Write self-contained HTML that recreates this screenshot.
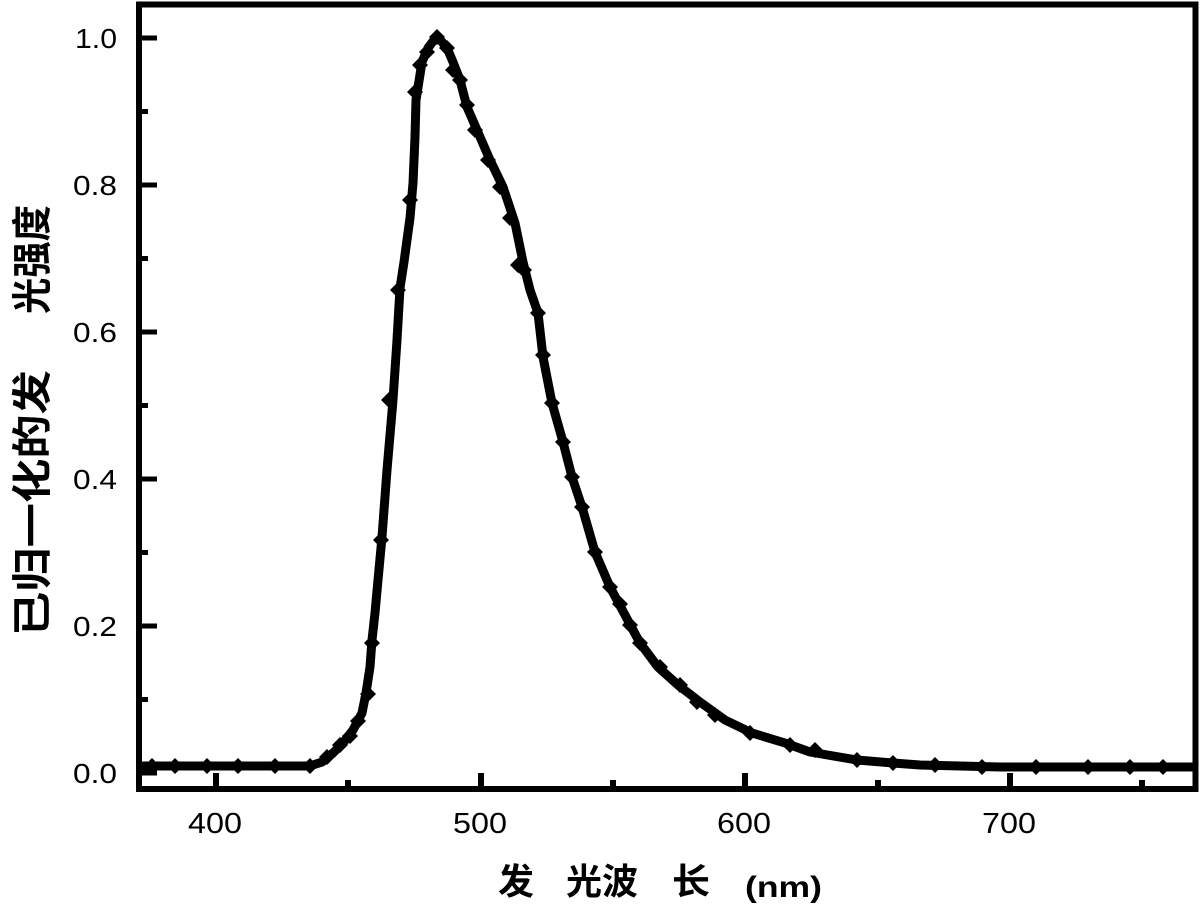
<!DOCTYPE html>
<html><head><meta charset="utf-8"><style>
html,body{margin:0;padding:0;background:#fff;}
svg{display:block;}
</style></head><body>
<svg width="1203" height="914" viewBox="0 0 1203 914" xmlns="http://www.w3.org/2000/svg" xmlns:xlink="http://www.w3.org/1999/xlink">
<defs><path id="d" d="M0,-8 L8,0 L0,8 L-8,0 Z" fill="#000"/></defs>
<rect width="1203" height="914" fill="#fff"/>
<rect x="139" y="4.5" width="1056.5" height="784.5" fill="none" stroke="#000" stroke-width="6"/>
<g stroke="#000" stroke-width="5">
<line x1="142" y1="38" x2="157" y2="38"/><line x1="142" y1="185" x2="157" y2="185"/>
<line x1="142" y1="332" x2="157" y2="332"/><line x1="142" y1="479" x2="157" y2="479"/>
<line x1="142" y1="626" x2="157" y2="626"/><line x1="142" y1="773" x2="157" y2="773"/>
<line x1="142" y1="111.5" x2="148" y2="111.5"/><line x1="142" y1="258.5" x2="148" y2="258.5"/>
<line x1="142" y1="405.5" x2="148" y2="405.5"/><line x1="142" y1="552.5" x2="148" y2="552.5"/>
<line x1="142" y1="699.5" x2="148" y2="699.5"/>
</g>
<g stroke="#000" stroke-width="6">
<line x1="216" y1="786" x2="216" y2="773"/><line x1="481" y1="786" x2="481" y2="773"/>
<line x1="745" y1="786" x2="745" y2="773"/><line x1="1010" y1="786" x2="1010" y2="773"/>
<line x1="348" y1="786" x2="348" y2="780"/><line x1="613" y1="786" x2="613" y2="780"/>
<line x1="878" y1="786" x2="878" y2="780"/><line x1="1142" y1="786" x2="1142" y2="780"/>
</g>
<g font-family="Liberation Sans, Arial, sans-serif" font-size="28" fill="#000" text-anchor="end">
<text x="117" y="48" textLength="42" lengthAdjust="spacingAndGlyphs">1.0</text>
<text x="117" y="195" textLength="44" lengthAdjust="spacingAndGlyphs">0.8</text>
<text x="117" y="342" textLength="44" lengthAdjust="spacingAndGlyphs">0.6</text>
<text x="117" y="489" textLength="44" lengthAdjust="spacingAndGlyphs">0.4</text>
<text x="117" y="636" textLength="44" lengthAdjust="spacingAndGlyphs">0.2</text>
<text x="117" y="783" textLength="44" lengthAdjust="spacingAndGlyphs">0.0</text>
</g>
<g font-family="Liberation Sans, Arial, sans-serif" font-size="29" fill="#000" text-anchor="middle">
<text x="215" y="833" textLength="54" lengthAdjust="spacingAndGlyphs">400</text>
<text x="480" y="833" textLength="54" lengthAdjust="spacingAndGlyphs">500</text>
<text x="744" y="833" textLength="54" lengthAdjust="spacingAndGlyphs">600</text>
<text x="1009" y="833" textLength="54" lengthAdjust="spacingAndGlyphs">700</text>
</g>
<g font-family="Liberation Sans, 'Noto Sans CJK SC', 'WenQuanYi Zen Hei', sans-serif" font-weight="bold" fill="#000">
<text x="498" y="894" font-size="36" textLength="36" lengthAdjust="spacingAndGlyphs">发</text>
<text x="566" y="894" font-size="36" textLength="72" lengthAdjust="spacingAndGlyphs">光波</text>
<text x="672" y="894" font-size="36" textLength="38" lengthAdjust="spacingAndGlyphs">长</text>
<text x="745" y="897" font-size="30" textLength="77" lengthAdjust="spacingAndGlyphs">(nm)</text>
</g>
<g font-family="Liberation Sans, 'Noto Sans CJK SC', 'WenQuanYi Zen Hei', sans-serif" font-weight="bold" fill="#000" font-size="40">
<text transform="translate(46,636) rotate(-90)" textLength="266" lengthAdjust="spacingAndGlyphs">已归一化的发</text>
<text transform="translate(46,314) rotate(-90)" textLength="109" lengthAdjust="spacingAndGlyphs">光强度</text>
</g>
<polyline fill="none" stroke="#000" stroke-width="9" stroke-linejoin="round" stroke-linecap="round"
points="143,766 310,766 322,762 333,753 343,743 353,730 362,713 366,693 370,667 372,640 375,613 378,580 382,537 387,470 393,400 397,340 400,288 404,262 407,240 410,218 413,183 415,137 416,100 422,62 428,48 437,36 447,48 453,62 460,80 467,107 477,130 490,160 503,187 515,223 523,262 530,290 538,313 543,357 552,403 563,442 572,477 582,507 595,552 610,587 625,615 640,643 658,667 678,685 700,702 725,720 752,733 785,743 810,752 857,760 893,763 920,765 1000,767 1193,767"/>
<use xlink:href="#d" x="152" y="766"/><use xlink:href="#d" x="175" y="766"/>
<use xlink:href="#d" x="207" y="766"/><use xlink:href="#d" x="238" y="766"/>
<use xlink:href="#d" x="275" y="766"/><use xlink:href="#d" x="310" y="766"/>
<use xlink:href="#d" x="327" y="757"/><use xlink:href="#d" x="340" y="745"/>
<use xlink:href="#d" x="350" y="736"/><use xlink:href="#d" x="358" y="721"/>
<use xlink:href="#d" x="368" y="694"/><use xlink:href="#d" x="372" y="643"/>
<use xlink:href="#d" x="381" y="540"/><use xlink:href="#d" x="389" y="400"/>
<use xlink:href="#d" x="398" y="290"/><use xlink:href="#d" x="410" y="200"/>
<use xlink:href="#d" x="415" y="92"/><use xlink:href="#d" x="420" y="65"/>
<use xlink:href="#d" x="427" y="52"/><use xlink:href="#d" x="437" y="37"/>
<use xlink:href="#d" x="447" y="48"/><use xlink:href="#d" x="453" y="70"/>
<use xlink:href="#d" x="460" y="80"/><use xlink:href="#d" x="467" y="105"/>
<use xlink:href="#d" x="475" y="130"/><use xlink:href="#d" x="488" y="160"/>
<use xlink:href="#d" x="500" y="187"/><use xlink:href="#d" x="510" y="218"/>
<use xlink:href="#d" x="518" y="265"/><use xlink:href="#d" x="524" y="270"/>
<use xlink:href="#d" x="538" y="313"/><use xlink:href="#d" x="543" y="355"/>
<use xlink:href="#d" x="552" y="403"/><use xlink:href="#d" x="563" y="442"/>
<use xlink:href="#d" x="572" y="477"/><use xlink:href="#d" x="582" y="507"/>
<use xlink:href="#d" x="595" y="552"/><use xlink:href="#d" x="610" y="587"/>
<use xlink:href="#d" x="620" y="604"/><use xlink:href="#d" x="630" y="625"/>
<use xlink:href="#d" x="640" y="643"/><use xlink:href="#d" x="660" y="667"/>
<use xlink:href="#d" x="680" y="685"/><use xlink:href="#d" x="697" y="702"/>
<use xlink:href="#d" x="715" y="715"/><use xlink:href="#d" x="750" y="733"/>
<use xlink:href="#d" x="790" y="745"/><use xlink:href="#d" x="815" y="750"/>
<use xlink:href="#d" x="857" y="760"/><use xlink:href="#d" x="893" y="763"/>
<use xlink:href="#d" x="935" y="765"/><use xlink:href="#d" x="982" y="767"/>
<use xlink:href="#d" x="1036" y="767"/><use xlink:href="#d" x="1088" y="767"/>
<use xlink:href="#d" x="1130" y="767"/><use xlink:href="#d" x="1163" y="767"/>
</svg>
</body></html>
